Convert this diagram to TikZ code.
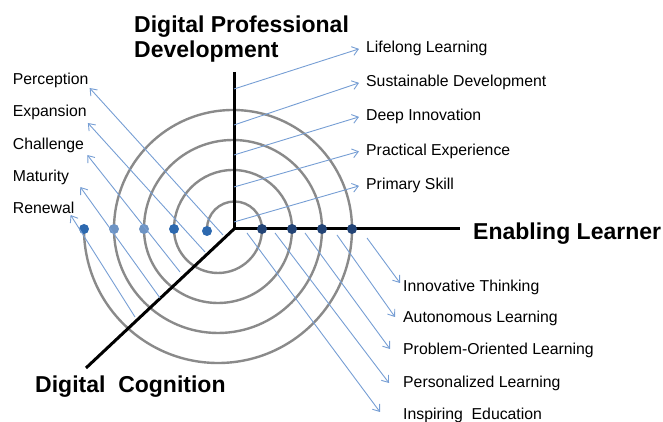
\documentclass[tikz,border=0pt]{standalone}
\usepackage{fontspec}
\setmainfont{Liberation Sans}
\usetikzlibrary{arrows.meta}

\definecolor{arrowblue}{RGB}{118,158,212}
\definecolor{ringgray}{RGB}{138,138,138}
\definecolor{dotblue}{RGB}{45,105,175}
\definecolor{dotpale}{RGB}{110,148,196}
\definecolor{dotnavy}{RGB}{35,68,118}

\begin{document}
\begin{tikzpicture}[x=1pt, y=1pt,
    lbl/.style={inner sep=0pt, font=\fontsize{15.8}{18}\selectfont},
    axislbl/.style={inner sep=0pt, font=\fontsize{23}{25}\selectfont\bfseries, align=left},
    pointer/.style={arrowblue, line width=0.9pt, -{Straight Barb[length=6pt,width=9pt]}}]
    \useasboundingbox (0,0) rectangle (663,422);

    \coordinate (O) at (234,193);
    \coordinate (top) at (234,350);
    \coordinate (right) at (460,193);
    \coordinate (low) at (86,54);

    % spiral of half circles
    \draw[ringgray, line width=2.4pt] (207,193)
        arc[start angle=180, end angle=0, radius=27.5]
        arc[start angle=0, end angle=-180, radius=44]
        arc[start angle=180, end angle=0, radius=59]
        arc[start angle=0, end angle=-180, radius=74]
        arc[start angle=180, end angle=0, radius=89]
        arc[start angle=0, end angle=-180, radius=104]
        arc[start angle=180, end angle=0, radius=119]
        arc[start angle=0, end angle=-180, radius=134];

    \draw[line width=3pt] (top) -- (O) -- (right);
    \draw[line width=3pt] (O) -- (low);

    \fill[dotblue] (84,193) circle (5);
    \fill[dotpale] (114,193) circle (5);
    \fill[dotpale] (144,193) circle (5);
    \fill[dotblue] (174,193) circle (5);
    \fill[dotblue] (207,191) circle (5);
    \fill[dotnavy] (262,193) circle (5);
    \fill[dotnavy] (292,193) circle (5);
    \fill[dotnavy] (322,193) circle (5);
    \fill[dotnavy] (352,193) circle (5);

    \node[axislbl, anchor=north west] (dpd) at (134,406) {Digital Professional\\Development};
    \node[axislbl, anchor=base west] (el) at (473,182) {Enabling Learner};
    \node[axislbl, anchor=base west] (dc) at (35,29) {Digital~~Cognition};

    % upper right
    \node[lbl, anchor=base west] (lifelong) at (366,369) {Lifelong Learning};
    \node[lbl, anchor=base west] (sustain) at (366,335) {Sustainable Development};
    \node[lbl, anchor=base west] (deep) at (366,301) {Deep Innovation};
    \node[lbl, anchor=base west] (practical) at (366,266.5) {Practical Experience};
    \node[lbl, anchor=base west] (primary) at (366,232) {Primary Skill};
    \draw[pointer] ([yshift=140]O) -- ([xshift=-7pt]lifelong.west);
    \draw[pointer] ([yshift=104]O) -- ([xshift=-7pt]sustain.west);
    \draw[pointer] ([yshift=74]O) -- ([xshift=-7pt]deep.west);
    \draw[pointer] ([yshift=42]O) -- ([xshift=-7pt]practical.west);
    \draw[pointer] ([yshift=7]O) -- ([xshift=-7pt]primary.west);

    % left
    \node[lbl, anchor=base west] (perception) at (12.7,337) {Perception};
    \node[lbl, anchor=base west] (expansion) at (12.7,305) {Expansion};
    \node[lbl, anchor=base west] (challenge) at (12.7,272) {Challenge};
    \node[lbl, anchor=base west] (maturity) at (12.7,240) {Maturity};
    \node[lbl, anchor=base west] (renewal) at (12.7,208) {Renewal};
    \draw[pointer] ([shift={(-11,-6)}]O) -- ([shift={(1,-3)}]perception.base east);
    \draw[pointer] ([shift={(-29,-23)}]O) -- ([shift={(1,-6)}]expansion.base east);
    \draw[pointer] ([shift={(-54,-43)}]O) -- ([shift={(3,-5)}]challenge.base east);
    \draw[pointer] ([shift={(-74,-69)}]O) -- ([shift={(11,-5)}]maturity.base east);
    \draw[pointer] ([shift={(-99,-88)}]O) -- ([shift={(-4,-1)}]renewal.base east);

    % lower right
    \node[lbl, anchor=base west] (innov) at (403,130) {Innovative Thinking};
    \node[lbl, anchor=base west] (auto) at (403,99) {Autonomous Learning};
    \node[lbl, anchor=base west] (problem) at (403,67) {Problem-Oriented Learning};
    \node[lbl, anchor=base west] (person) at (403,34) {Personalized Learning};
    \node[lbl, anchor=base west] (inspire) at (403,2) {Inspiring~~Education};
    \draw[pointer] ([shift={(133,-9)}]O) -- ([shift={(-3,9)}]innov.base west);
    \draw[pointer] ([shift={(103,-6)}]O) -- ([shift={(-8,6)}]auto.base west);
    \draw[pointer] ([shift={(71,-4)}]O) -- ([shift={(-13,6)}]problem.base west);
    \draw[pointer] ([shift={(41,-4)}]O) -- ([shift={(-14,5)}]person.base west);
    \draw[pointer] ([shift={(13,-4)}]O) -- ([shift={(-23,8)}]inspire.base west);
\end{tikzpicture}
\end{document}
